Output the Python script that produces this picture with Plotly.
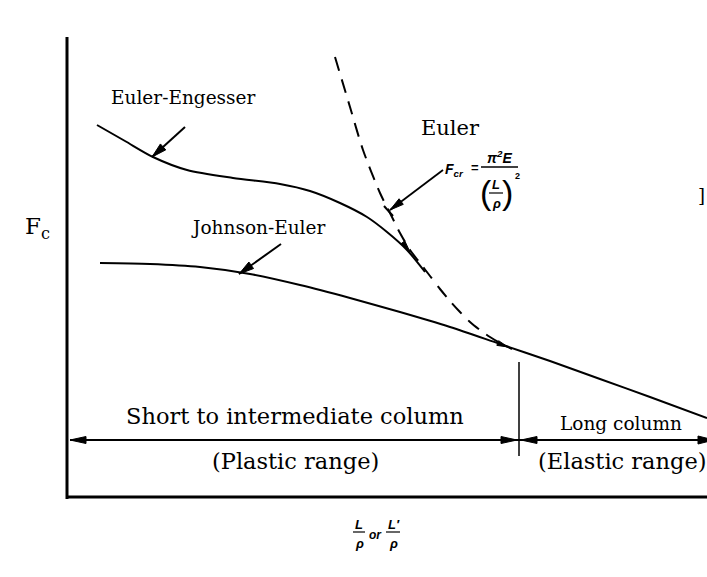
import math
import plotly.graph_objects as go

# ---- data (schematic, arbitrary units: x = slenderness L/rho, y = critical load Fc) ----
engesser_x = [97, 125, 153, 187, 233, 280, 310, 340, 367, 387, 407, 425]
engesser_fc = [452, 436, 420, 407, 399, 393, 386, 374, 360, 345, 327, 305]
euler_x = [335, 350, 363, 380, 390, 400, 410, 420, 430, 440, 450, 460, 470, 480, 490, 500, 512]
euler_fc = [520, 470, 427, 384, 364, 344, 327, 314, 301, 288, 276, 265, 255, 247, 240, 234, 228]
johnson_x = [100, 150, 200, 250, 300, 350, 400, 450, 500, 550, 600, 650, 707]
johnson_fc = [314, 313, 310, 303, 292, 279, 265, 250, 233, 216, 198, 180, 159]
transition_x = 519

W, H = 707, 577


def P(px, py):
    """layout helper: picture position -> axis units"""
    return px, H - py


SERIF = "DejaVu Serif"
SANS = "Liberation Sans"

fig = go.Figure()
fig.add_trace(go.Scatter(x=engesser_x, y=engesser_fc, mode="lines",
                         line=dict(color="black", width=2, shape="spline", smoothing=0.8),
                         hoverinfo="skip", showlegend=False))
fig.add_trace(go.Scatter(x=euler_x, y=euler_fc, mode="lines",
                         line=dict(color="black", width=2, shape="spline", smoothing=0.8, dash="14px,9px"),
                         hoverinfo="skip", showlegend=False))
fig.add_trace(go.Scatter(x=johnson_x, y=johnson_fc, mode="lines",
                         line=dict(color="black", width=2, shape="spline", smoothing=0.8),
                         hoverinfo="skip", showlegend=False))

shapes = []


def line(p0, p1, w=2):
    x0, y0 = P(*p0)
    x1, y1 = P(*p1)
    shapes.append(dict(type="line", xref="x", yref="y", x0=x0, y0=y0, x1=x1, y1=y1,
                       line=dict(color="black", width=w)))


def head(tip, tail, L=14, Wd=8):
    tx, ty = P(*tip)
    sx, sy = P(*tail)
    dx, dy = tx - sx, ty - sy
    n = math.hypot(dx, dy)
    ux, uy = dx / n, dy / n
    bx, by = tx - ux * L, ty - uy * L
    px_, py_ = -uy * Wd / 2, ux * Wd / 2
    path = f"M{tx},{ty} L{bx+px_},{by+py_} L{bx-px_},{by-py_} Z"
    shapes.append(dict(type="path", xref="x", yref="y", path=path, fillcolor="black",
                       line=dict(color="black", width=1)))


def arrow(tail, tip, w=2, L=14, Wd=8):
    line(tail, tip, w)
    head(tip, tail, L, Wd)


# axes
line((67, 37), (67, 499), 3)
line((66, 497), (707, 497), 3)

# label pointers
arrow((185, 127), (152, 157), 2, 15, 8)
arrow((281, 244), (239, 274), 2, 15, 8)
arrow((443, 170), (390, 210), 1.8, 14, 7)
line((384, 206), (393, 216), 2)  # tee

# marks on curves
head((410, 252), (398, 236), 12, 5)
head((508, 347), (495, 342), 11, 5)

# range arrow row
line((70, 440), (707, 440), 2)
head((70, 440), (100, 440), 16, 7)
head((517, 440), (480, 440), 16, 7)
head((521, 440), (560, 440), 16, 7)
head((714, 440), (680, 440), 16, 8)
line((transition_x, 362), (transition_x, 456), 1.5)

# formula bars
line((481, 167), (518, 167), 1.6)
line((489, 193), (503, 193), 1.2)
line((353, 532), (365, 532), 1.2)
line((386, 532), (400, 532), 1.2)

ann = []


def text(s, px, py, size, family=SERIF, weight="normal", style="normal", xanchor="center"):
    x, y = P(px, py)
    ann.append(dict(x=x, y=y, xref="x", yref="y", text=s, showarrow=False, xanchor=xanchor, yanchor="middle",
                    font=dict(family=family, size=size, color="black", weight=weight, style=style)))


text("Euler-Engesser", 183, 97, 18.5)
text("Euler", 450, 128, 21)
text("Johnson-Euler", 258, 227, 18.5)
text("F<sub>c</sub>", 37, 228, 23)
text("Short to intermediate column", 295, 416, 22.5)
text("(Plastic range)", 295, 461, 22.5)
text("Long column", 621, 423, 18.5)
text("(Elastic range)", 622, 461, 22.5)
text("]", 707, 195, 18, xanchor="right")

# Euler formula
text("F<sub>cr</sub>", 454, 170, 14, SANS, "bold", "italic")
text("=", 475, 167, 13, SANS, "bold")
text("π<sup>2</sup>E", 499, 157, 14, SANS, "bold", "italic")
text("(", 486, 192, 34, SANS)
text(")", 507, 192, 34, SANS)
text("L", 496, 184, 13, SANS, "bold", "italic")
text("ρ", 496, 203, 13, SANS, "bold", "italic")
text("2", 517, 176, 9, SANS, "bold")

# x label
text("L", 359, 524, 13, SANS, "bold", "italic")
text("ρ", 359, 543, 13, SANS, "bold", "italic")
text("or", 375, 535, 12, SANS, "bold", "italic")
text("L′", 394, 524, 13, SANS, "bold", "italic")
text("ρ", 393, 543, 13, SANS, "bold", "italic")

fig.update_layout(
    width=W, height=H, margin=dict(l=0, r=0, t=0, b=0),
    paper_bgcolor="white", plot_bgcolor="white",
    xaxis=dict(range=[0, W], visible=False, fixedrange=True),
    yaxis=dict(range=[0, H], visible=False, fixedrange=True),
    shapes=shapes, annotations=ann, showlegend=False,
)
fig.write_html("out.html")
